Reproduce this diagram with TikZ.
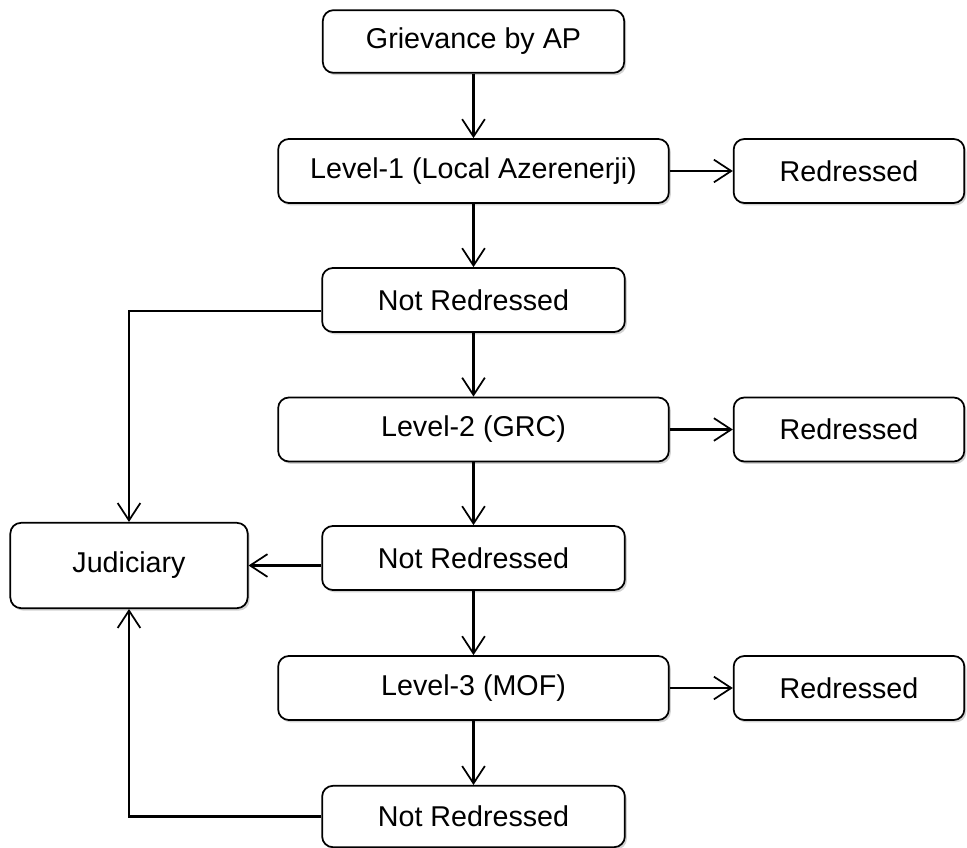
\documentclass[tikz,border=0pt]{standalone}
\usepackage{fontspec}
\setmainfont{Liberation Sans}
\usetikzlibrary{arrows.meta,shadows,calc}
\begin{document}
\begin{tikzpicture}[x=0.75pt,y=-0.75pt,
  box/.style={draw=black, line width=1.3pt, rounded corners=8pt, fill=white,
    drop shadow={shadow xshift=1.5pt, shadow yshift=-1.8pt, fill=black!22, opacity=0.8},
    font=\fontsize{21.5}{25}\selectfont, inner sep=0pt, minimum height=48pt},
  levelbox/.style={box, minimum width=293pt},
  nrbox/.style={box, minimum width=227pt},
  redbox/.style={box, minimum width=173pt},
  conn/.style={line width=1.8pt, -{Straight Barb[length=13pt,width=17pt,line width=1.3pt]}},
]
\useasboundingbox (0,0) rectangle (967,848);
\node[box, minimum width=226pt, minimum height=47pt] (g) at (473.5,41.5) {Grievance by AP};
\node[levelbox] (l1) at (473.5,171) {Level-1 (Local Azerenerji)};
\node[redbox] (r1) at (849,171) {Redressed};
\node[nrbox] (n1) at (473.5,300) {Not Redressed};
\node[levelbox] (l2) at (473.5,429.5) {Level-2 (GRC)};
\node[redbox] (r2) at (849,429.5) {Redressed};
\node[box, minimum width=178pt, minimum height=64pt] (j) at (129,565.5) {Judiciary};
\node[nrbox] (n2) at (473.5,558) {Not Redressed};
\node[levelbox] (l3) at (473.5,688) {Level-3 (MOF)};
\node[redbox] (r3) at (849,688) {Redressed};
\node[nrbox, minimum height=46pt] (n3) at (473.5,816.5) {Not Redressed};

\draw[conn] (g.south) -- (l1.north);
\draw[conn] (l1.east) -- (r1.west);
\draw[conn] (l1.south) -- (n1.north);
\draw[conn] ($(n1.west)+(0,11)$) -| (j.north);
\draw[conn] (n1.south) -- (l2.north);
\draw[conn] (l2.east) -- (r2.west);
\draw[conn] (l2.south) -- (n2.north);
\draw[conn] (n2.west |- j.east) -- (j.east);
\draw[conn] (n2.south) -- (l3.north);
\draw[conn] (l3.east) -- (r3.west);
\draw[conn] (l3.south) -- (n3.north);
\draw[conn] (n3.west) -| (j.south);
\end{tikzpicture}
\end{document}
